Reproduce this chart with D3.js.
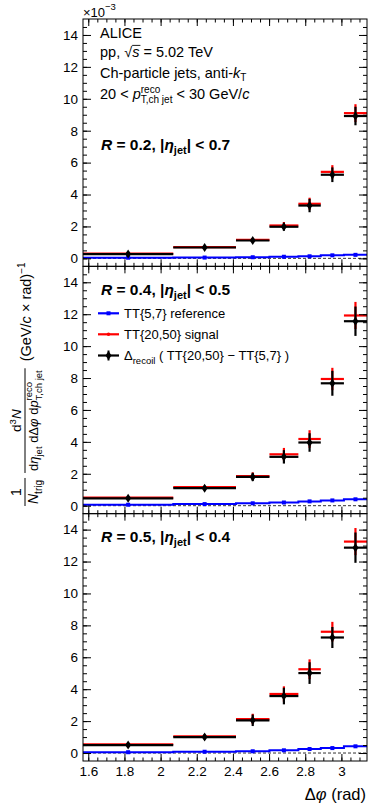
<!DOCTYPE html>
<html><head><meta charset="utf-8">
<script src="https://cdn.jsdelivr.net/npm/d3@7"></script>
<style>
html,body{margin:0;padding:0;background:#fff;}
svg{display:block;font-family:"Liberation Sans",Arial,Helvetica,sans-serif;}
text{white-space:pre;}
</style></head><body>
<svg id="c" width="374" height="808"></svg>
<script>
// ---------- data ----------
const binEdges = [Math.PI / 2, 2.07, 2.417, 2.602, 2.762, 2.886, 3.014, Math.PI];
const xTicks = [1.6, 1.8, 2, 2.2, 2.4, 2.6, 2.8, 3];
const yTicks = [0, 2, 4, 6, 8, 10, 12, 14];
const panelR = ["0.2", "0.4", "0.5"];
const panelEta = ["0.7", "0.5", "0.4"];

// R = 0.2
const ref02 = [0.04, 0.05, 0.07, 0.10, 0.13, 0.19, 0.22];
const sig02 = [0.30, 0.71, 1.16, 2.06, 3.42, 5.42, 9.10];
const rec02 = [0.27, 0.68, 1.12, 1.98, 3.31, 5.24, 8.92];
const sigErr02 = [0.05, 0.07, 0.12, 0.22, 0.38, 0.42, 0.56];
const recErr02 = [0.06, 0.08, 0.13, 0.25, 0.42, 0.46, 0.58];
// R = 0.4
const ref04 = [0.06, 0.10, 0.15, 0.20, 0.27, 0.33, 0.40];
const sig04 = [0.50, 1.16, 1.85, 3.22, 4.18, 7.94, 11.92];
const rec04 = [0.46, 1.10, 1.80, 3.06, 3.96, 7.67, 11.56];
const sigErr04 = [0.07, 0.11, 0.24, 0.40, 0.55, 0.70, 0.85];
const recErr04 = [0.08, 0.12, 0.26, 0.42, 0.58, 0.78, 0.92];
// R = 0.5
const ref05 = [0.05, 0.08, 0.11, 0.17, 0.25, 0.31, 0.42];
const sig05 = [0.55, 1.05, 2.13, 3.70, 5.25, 7.60, 13.25];
const rec05 = [0.50, 1.00, 2.05, 3.57, 5.01, 7.24, 12.87];
const sigErr05 = [0.08, 0.13, 0.33, 0.48, 0.62, 0.62, 0.85];
const recErr05 = [0.09, 0.15, 0.36, 0.52, 0.68, 0.66, 0.95];

const panels = [
  {R: panelR[0], eta: panelEta[0], ref: ref02, sig: sig02, rec: rec02, sigErr: sigErr02, recErr: recErr02},
  {R: panelR[1], eta: panelEta[1], ref: ref04, sig: sig04, rec: rec04, sigErr: sigErr04, recErr: recErr04},
  {R: panelR[2], eta: panelEta[2], ref: ref05, sig: sig05, rec: rec05, sigErr: sigErr05, recErr: recErr05}
];

// ---------- layout ----------
const FONT = '"Liberation Sans",Arial,Helvetica,sans-serif';
const svg = d3.select("#c");
const L = 83, Rr = 367, T0 = 19, B = 761;
const PH = (B - T0) / 3;
const BLUE = "#0000ff", RED = "#ff0000";

const x = d3.scaleLinear().domain([Math.PI / 2, Math.PI]).range([L, Rr]);
const centers = binEdges.slice(0, -1).map((e, i) => (e + binEdges[i + 1]) / 2);
const xMinor = d3.range(32, 63).map(k => k * 0.05).filter(v => v > Math.PI / 2 && v < Math.PI);
const yMinor = d3.range(0, 30).map(k => k * 0.5);

// rich text helper: parts laid out sequentially
function rich(parent, x0, y0, parts, opts = {}) {
  const g = parent.append("g");
  let cx = 0, lastStart = 0;
  parts.forEach(p => {
    const size = p.size || opts.size || 14;
    const start = p.stack ? lastStart : cx + (p.gap || 0);
    const t = g.append("text").attr("x", start).attr("y", p.dy || 0)
      .attr("font-size", size).attr("fill", p.fill || "#000").text(p.t);
    if (p.italic) t.attr("font-style", "italic");
    if (p.bold || opts.bold) t.attr("font-weight", "bold");
    const w = t.node().getComputedTextLength();
    if (p.over) {
      g.append("line").attr("x1", start).attr("x2", start + w + 1)
        .attr("y1", (p.dy || 0) - size * 0.8).attr("y2", (p.dy || 0) - size * 0.8)
        .attr("stroke", "#000").attr("stroke-width", 0.9);
    }
    cx = p.stack ? Math.max(cx, start + w) : start + w;
    lastStart = start;
  });
  const off = opts.anchor === "middle" ? -cx / 2 : opts.anchor === "end" ? -cx : 0;
  g.attr("transform", `translate(${x0 + off},${y0})`);
  return cx;
}

function diamond(cx, cy, w, h) {
  return `M${cx},${cy - h}L${cx + w},${cy}L${cx},${cy + h}L${cx - w},${cy}Z`;
}

panels.forEach((p, i) => {
  const top = T0 + i * PH, bot = top + PH;
  const y = d3.scaleLinear().domain([-0.5, 15]).range([bot, top]);
  const g = svg.append("g");

  // zero line
  g.append("line").attr("x1", L).attr("x2", Rr).attr("y1", y(0)).attr("y2", y(0))
    .attr("stroke", "#333").attr("stroke-width", 1).attr("stroke-dasharray", "3,2");

  // reference (blue) step line
  const stepPts = binEdges.map((e, k) => [e, p.ref[Math.min(k, p.ref.length - 1)]]);
  g.append("path").datum(stepPts)
    .attr("d", d3.line().x(d => x(d[0])).y(d => y(d[1])).curve(d3.curveStepAfter))
    .attr("fill", "none").attr("stroke", BLUE).attr("stroke-width", 2);
  g.selectAll(".bm").data(p.ref).join("rect")
    .attr("x", (d, k) => x(centers[k]) - 2).attr("y", d => y(d) - 2)
    .attr("width", 4).attr("height", 4).attr("fill", BLUE);

  // signal (red)
  p.sig.forEach((v, k) => {
    g.append("line").attr("x1", x(binEdges[k])).attr("x2", x(binEdges[k + 1]))
      .attr("y1", y(v)).attr("y2", y(v)).attr("stroke", RED).attr("stroke-width", 2.2);
    g.append("line").attr("x1", x(centers[k])).attr("x2", x(centers[k]))
      .attr("y1", y(v - p.sigErr[k])).attr("y2", y(v + p.sigErr[k]))
      .attr("stroke", RED).attr("stroke-width", 2.2);
  });

  // recoil (black)
  p.rec.forEach((v, k) => {
    g.append("line").attr("x1", x(binEdges[k])).attr("x2", x(binEdges[k + 1]))
      .attr("y1", y(v)).attr("y2", y(v)).attr("stroke", "#000").attr("stroke-width", 2.2);
    g.append("line").attr("x1", x(centers[k])).attr("x2", x(centers[k]))
      .attr("y1", y(v - p.recErr[k])).attr("y2", y(v + p.recErr[k]))
      .attr("stroke", "#000").attr("stroke-width", 2.2);
    g.append("path").attr("d", diamond(x(centers[k]), y(v), 3, 4.5)).attr("fill", "#000");
  });

  // axes
  const style = a => a.attr("font-size", 13.5).attr("font-family", FONT)
    .call(s => s.select(".domain").remove())
    .call(s => s.selectAll("line").attr("stroke", "#000"));
  g.append("g").attr("transform", `translate(${L},0)`)
    .call(d3.axisLeft(y).tickValues(yTicks).tickSizeInner(-8).tickSizeOuter(0).tickPadding(5).tickFormat(d3.format("d"))).call(style);
  g.append("g").attr("transform", `translate(${L},0)`)
    .call(d3.axisLeft(y).tickValues(yMinor).tickSizeInner(-4).tickSizeOuter(0).tickFormat("")).call(style);
  g.append("g").attr("transform", `translate(${Rr},0)`)
    .call(d3.axisRight(y).tickValues(yTicks).tickSizeInner(-8).tickSizeOuter(0).tickFormat("")).call(style);
  g.append("g").attr("transform", `translate(${Rr},0)`)
    .call(d3.axisRight(y).tickValues(yMinor).tickSizeInner(-4).tickSizeOuter(0).tickFormat("")).call(style);
  g.append("g").attr("transform", `translate(0,${top})`)
    .call(d3.axisTop(x).tickValues(xTicks).tickSizeInner(-7).tickSizeOuter(0).tickFormat("")).call(style);
  g.append("g").attr("transform", `translate(0,${top})`)
    .call(d3.axisTop(x).tickValues(xMinor).tickSizeInner(-3.5).tickSizeOuter(0).tickFormat("")).call(style);
  g.append("g").attr("transform", `translate(0,${bot})`)
    .call(d3.axisBottom(x).tickValues(xTicks).tickSizeInner(-7).tickSizeOuter(0).tickPadding(5)
      .tickFormat(i === 2 ? d3.format("") : "")).call(style);
  g.append("g").attr("transform", `translate(0,${bot})`)
    .call(d3.axisBottom(x).tickValues(xMinor).tickSizeInner(-3.5).tickSizeOuter(0).tickFormat("")).call(style);

  g.append("rect").attr("x", L).attr("y", top).attr("width", Rr - L).attr("height", PH)
    .attr("fill", "none").attr("stroke", "#000").attr("stroke-width", 1);

  // panel label
  const ly = i === 0 ? T0 + 131 : top + 28.5;
  rich(g, 101, ly, [
    {t: "R", italic: true},
    {t: " = " + p.R + ", |"},
    {t: "η", italic: true},
    {t: "jet", size: 11, dy: 4},
    {t: "| < " + p.eta}
  ], {size: 15.5, bold: true});
});

// ---------- texts ----------
rich(svg, 83, 17, [{t: "×10"}, {t: "−3", size: 9.5, dy: -7}], {size: 13});

const tx = 100;
rich(svg, tx, 37.5, [{t: "ALICE"}], {size: 14.5});
rich(svg, tx, 57, [{t: "pp, "}, {t: "√"}, {t: "s", italic: true, over: true}, {t: " = 5.02 TeV"}], {size: 14.5});
rich(svg, tx, 77.5, [{t: "Ch-particle jets, anti-"}, {t: "k", italic: true}, {t: "T", size: 10, dy: 3}], {size: 14.5});
rich(svg, tx, 98.5, [
  {t: "20 < "}, {t: "p", italic: true},
  {t: "reco", size: 10, dy: -6}, {t: "T,ch jet", size: 10, dy: 4.5, stack: true},
  {t: " < 30 GeV/"}, {t: "c", italic: true}
], {size: 14.5});

// legend
const legY = [313.3, 334.3, 355.5];
const legCol = [BLUE, RED, "#000"];
legY.forEach((ly, k) => {
  svg.append("line").attr("x1", 98).attr("x2", 119).attr("y1", ly).attr("y2", ly)
    .attr("stroke", legCol[k]).attr("stroke-width", 2.2);
  if (k === 0) svg.append("rect").attr("x", 106.5).attr("y", ly - 2).attr("width", 4).attr("height", 4).attr("fill", BLUE);
  if (k === 1) svg.append("circle").attr("cx", 108.5).attr("cy", ly).attr("r", 1.8).attr("fill", RED);
  if (k === 2) {
    svg.append("line").attr("x1", 108.5).attr("x2", 108.5).attr("y1", ly - 5).attr("y2", ly + 5).attr("stroke", "#000").attr("stroke-width", 2);
    svg.append("path").attr("d", diamond(108.5, ly, 3, 4.5)).attr("fill", "#000");
  }
});
rich(svg, 124, legY[0] + 4.6, [{t: "TT{5,7} reference"}], {size: 13});
rich(svg, 124, legY[1] + 4.6, [{t: "TT{20,50} signal"}], {size: 13});
rich(svg, 124, legY[2] + 4.6, [{t: "Δ"}, {t: "recoil", size: 9.5, dy: 3.5}, {t: " ( TT{20,50} − TT{5,7} )"}], {size: 13});

// x-axis title
rich(svg, 366, 800, [{t: "Δ"}, {t: "φ", italic: true}, {t: " (rad)"}], {size: 16.5, anchor: "end"});

// y-axis title (rotated)
const yt = svg.append("g").attr("transform", "translate(25,506) rotate(-90)");
// frac 1/N_trig
const nW = rich(yt, 2, 13, [{t: "N", italic: true}, {t: "trig", size: 10, dy: 3.5}], {size: 14});
yt.append("line").attr("x1", 0).attr("x2", nW + 4).attr("y1", 0).attr("y2", 0).attr("stroke", "#000").attr("stroke-width", 1);
rich(yt, (nW + 4) / 2, -4, [{t: "1"}], {size: 14, anchor: "middle"});
// frac d3N / ...
const f2 = nW + 9;
const dW = rich(yt, f2 + 2, 13, [
  {t: "d"}, {t: "η", italic: true}, {t: "jet", size: 9.5, dy: 3.5},
  {t: " d"}, {t: "Δ"}, {t: "φ", italic: true}, {t: " d"}, {t: "p", italic: true},
  {t: "reco", size: 9.5, dy: -6}, {t: "T,ch jet", size: 9.5, dy: 4, stack: true}
], {size: 13});
yt.append("line").attr("x1", f2).attr("x2", f2 + dW + 4).attr("y1", 0).attr("y2", 0).attr("stroke", "#000").attr("stroke-width", 1);
rich(yt, f2 + (dW + 4) / 2, -4, [{t: "d"}, {t: "3", size: 9.5, dy: -5}, {t: "N", italic: true}], {size: 13.5, anchor: "middle"});
// units
rich(yt, f2 + dW + 11, 5.5, [{t: "(GeV/"}, {t: "c", italic: true}, {t: " × rad)"}, {t: "−1", size: 10, dy: -6}], {size: 14.5});
</script>
</body></html>
